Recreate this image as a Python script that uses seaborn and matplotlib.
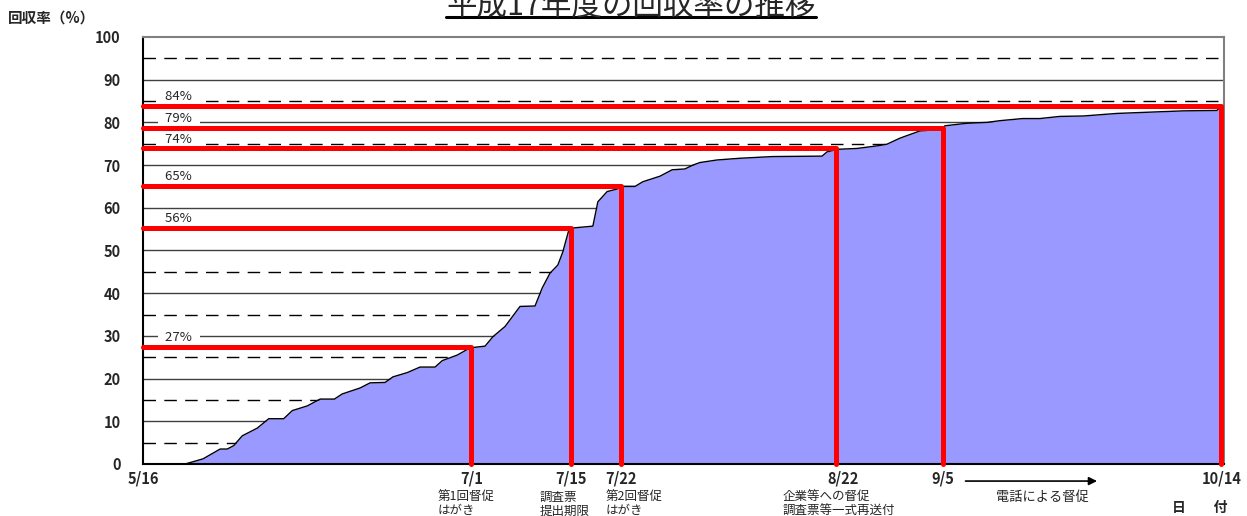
import matplotlib
matplotlib.use("Agg")
import matplotlib.pyplot as plt
import pandas as pd
import seaborn as sns
from matplotlib.lines import Line2D

# Days since 5/16 and cumulative collection rate (%)
days = [0, 5.9, 8.4, 10.8, 11.8, 12.7, 13.9, 16.0, 17.6, 19.7, 20.9, 23.0, 24.8, 26.8,
        27.9, 30.4, 31.8, 33.9, 35.0, 37.0, 38.8, 40.9, 41.9, 44.0, 45.8, 47.9, 49.0,
        50.7, 52.8, 54.9, 55.9, 57.0, 58.1, 58.8, 59.7, 63.0, 63.7, 65.0, 66.4, 67.2,
        68.9, 70.0, 72.4, 74.1, 75.9, 77.0, 78.0, 80.4, 83.6, 88.2, 95.1, 95.8, 97.3,
        100.0, 102.8, 104.2, 106.0, 108.8, 111.9, 112.3, 115.4, 118.2, 120.0, 123.2,
        125.6, 128.4, 131.7, 136.4, 141.0, 145.7, 150.4, 151.0]
rate = [0, 0, 1.2, 3.5, 3.5, 4.3, 6.6, 8.4, 10.6, 10.6, 12.5, 13.6, 15.2, 15.2,
        16.4, 17.8, 19.0, 19.1, 20.4, 21.4, 22.7, 22.7, 24.2, 25.5, 27.2, 27.6, 29.8,
        32.2, 36.9, 37.0, 41.2, 44.7, 46.6, 49.7, 55.2, 55.7, 61.4, 63.8, 64.4, 65.0,
        65.0, 66.1, 67.4, 68.9, 69.1, 70.0, 70.6, 71.2, 71.6, 72.0, 72.1, 73.1, 73.7,
        73.9, 74.5, 74.9, 76.3, 78.0, 78.4, 79.2, 79.8, 80.0, 80.4, 80.9,
        80.9, 81.4, 81.5, 82.1, 82.4, 82.7, 82.8, 83.8]

# Milestones (red lines)
event_days = [46, 60, 67, 97, 112, 151]
event_rate = [27.4, 55.2, 65.1, 73.9, 78.8, 83.9]
event_labels = ["27%", "56%", "65%", "74%", "79%", "84%"]

tick_days = [0, 46, 60, 67, 98, 112, 151]
tick_labels = ["5/16", "7/1", "7/15", "7/22", "8/22", "9/5", "10/14"]

note_days = [41.3, 55.6, 64.8, 89.5]
note_texts = ["第1回督促\nはがき", "調査票\n提出期限", "第2回督促\nはがき",
              "企業等への督促\n調査票等一式再送付"]

sns.set_theme(style="white")
plt.rcParams["font.family"] = ["Noto Sans CJK JP", "DejaVu Sans"]

df = pd.DataFrame({"day": days, "rate": rate})

fig = plt.figure(figsize=(12.47, 5.16), dpi=100)
ax = fig.add_axes([0.1147, 0.1008, 0.8669, 0.8275])

# grid: solid every 10, dashed in between
for v in range(10, 100, 10):
    ax.axhline(v, color="#404040", lw=1, zorder=0)
for v in range(5, 100, 10):
    ax.axhline(v, color="black", lw=1, ls=(0, (9, 6)), zorder=0)

ax.fill_between(df["day"], df["rate"], color="#9999FF", lw=0, zorder=1)
sns.lineplot(data=df, x="day", y="rate", color="black", lw=1, ax=ax, zorder=2)

for d, r, lab in zip(event_days, event_rate, event_labels):
    ax.plot([0, d, d], [r, r, 0], color="red", lw=3.6, zorder=3, clip_on=False)
    ax.text(5.0, r + 2.2, "  " + lab + "  ", ha="center", va="center", fontsize=9.5,
            bbox=dict(facecolor="white", edgecolor="none", boxstyle="square,pad=0.12"),
            zorder=2.5)

ax.set_xlim(0, 151.4)
ax.set_ylim(0, 100)
ax.set_yticks(range(0, 101, 10), [str(v) for v in range(0, 101, 10)],
              fontsize=10.5, fontweight="bold")
ax.set_xticks(tick_days, tick_labels, fontsize=10.5, fontweight="bold")
ax.tick_params(axis="y", length=0, pad=16)
ax.tick_params(axis="x", length=0, pad=5)
ax.set_xlabel("")
ax.set_ylabel("")

for s in ["left", "bottom"]:
    ax.spines[s].set_color("black")
    ax.spines[s].set_linewidth(1.5)
for s in ["top", "right"]:
    ax.spines[s].set_color("#808080")
    ax.spines[s].set_linewidth(1.5)

for d, t in zip(note_days, note_texts):
    ax.text(d, -6.2, t, ha="left", va="top", fontsize=9, linespacing=1.1)

ax.annotate("", xy=(134, -4.0), xytext=(114.8, -4.0), annotation_clip=False,
            arrowprops=dict(arrowstyle="-|>", color="black", lw=1.2, mutation_scale=12))
ax.text(126, -7.8, "電話による督促", ha="center", va="center", fontsize=9.5)
ax.text(148, -10.2, "日　　付", ha="center", va="center", fontsize=10, fontweight="bold")

fig.text(8 / 1247, 1 - 18 / 516, "回収率（%）", ha="left", va="center",
         fontsize=10.5, fontweight="bold")
title = fig.text(631 / 1247, 1 - 14 / 516, "平成17年度の回収率の推移",
                 ha="center", va="baseline", fontsize=22)

# underline the title
fig.canvas.draw()
bb = title.get_window_extent(fig.canvas.get_renderer())
uy = 1 - 17 / 516
fig.add_artist(Line2D([bb.x0 / 1247, bb.x1 / 1247], [uy, uy], color="black", lw=2.2,
                      transform=fig.transFigure))

fig.savefig("out.png", dpi=100)
